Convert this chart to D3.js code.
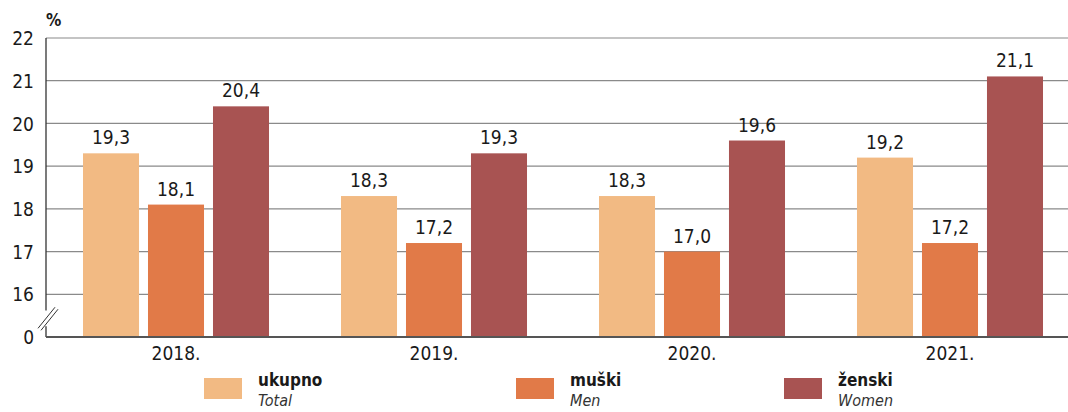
<!DOCTYPE html>
<html>
<head>
<meta charset="UTF-8">
<title>Stopa rizika siromaštva</title>
<script src="https://cdn.jsdelivr.net/npm/d3@7"></script>
<style>
body{margin:0;background:#fff}
text{font-family:"DejaVu Sans Condensed","DejaVu Sans",sans-serif;font-stretch:condensed;fill:#1a1a1a}
</style>
</head>
<body>
<script>
var years=["2018.","2019.","2020.","2021."]
var series=["ukupno","muški","ženski"]
var seriesEn=["Total","Men","Women"]
var ukupno=[19.3,18.3,18.3,19.2]
var muski=[18.1,17.2,17.0,17.2]
var zenski=[20.4,19.3,19.6,21.1]
var yTicks=[16,17,18,19,20,21,22]
var colors=["#f2ba83","#e17a48","#a85352"]

var values=[ukupno,muski,zenski]
var W=1068,H=412
var svg=d3.select("body").append("svg").attr("width",W).attr("height",H)

// 15 stands for the broken part, labelled 0
var y=d3.scaleLinear().domain([15,22]).range([337,38])
var x0=d3.scaleBand().domain(years).range([46,1080]).paddingInner(0.279).paddingOuter(0.1434)
var x1=d3.scaleBand().domain(series).range([0,x0.bandwidth()]).paddingInner(0.138)

// grid
svg.append("g").selectAll("line").data(yTicks).enter().append("line")
 .attr("x1",46).attr("x2",W).attr("y1",d=>y(d)).attr("y2",d=>y(d))
 .attr("stroke","#8a8a8a").attr("stroke-width",1.2)

var yAxis=svg.append("g").attr("transform","translate(46,0)")
 .call(d3.axisLeft(y).tickValues(yTicks.concat([15])).tickSize(0).tickPadding(12).tickFormat(d=>d==15?"0":d))
yAxis.select(".domain").remove()
yAxis.selectAll("text").style("font-size","19px").attr("dy","0.35em")

// left axis with break
svg.append("line").attr("x1",46).attr("x2",46).attr("y1",y(22)).attr("y2",y(15.62)).attr("stroke","#333").attr("stroke-width",1.3)
svg.append("line").attr("x1",46).attr("x2",46).attr("y1",y(15.25)).attr("y2",y(15)).attr("stroke","#333").attr("stroke-width",1.3)
svg.append("line").attr("x1",38).attr("x2",55).attr("y1",y(15.25)+2).attr("y2",y(15.65)-2).attr("stroke","#333")
svg.append("line").attr("x1",41).attr("x2",58).attr("y1",y(15.25)+4).attr("y2",y(15.65)).attr("stroke","#333")

svg.append("text").attr("x",46).attr("y",26).style("font-size","17px").style("font-weight","bold").text("%")

var groups=svg.append("g").selectAll("g").data(years).enter().append("g")
 .attr("transform",d=>"translate("+x0(d)+",0)")

groups.selectAll("rect").data((d,i)=>series.map((s,j)=>({s:s,j:j,v:values[j][i]}))).enter().append("rect")
 .attr("x",d=>x1(d.s)).attr("width",x1.bandwidth())
 .attr("y",d=>y(d.v)).attr("height",d=>y(15)-y(d.v))
 .attr("fill",d=>colors[d.j])

groups.selectAll("text.val").data((d,i)=>series.map((s,j)=>({s:s,j:j,v:values[j][i]}))).enter().append("text")
 .attr("class","val")
 .attr("x",d=>x1(d.s)+x1.bandwidth()/2).attr("y",d=>y(d.v)-9)
 .attr("text-anchor","middle").style("font-size","19px")
 .text(d=>d3.format(".1f")(d.v).replace(".",","))

// base axis
svg.append("line").attr("x1",46).attr("x2",W).attr("y1",y(15)).attr("y2",y(15)).attr("stroke","#555").attr("stroke-width",2)

var xAxis=svg.append("g").attr("transform","translate(0,"+y(15)+")")
 .call(d3.axisBottom(x0).tickSize(0).tickPadding(10))
xAxis.select(".domain").remove()
xAxis.selectAll("text").style("font-size","19px")

// legend
var legX=[204,516,784]
var leg=svg.append("g").selectAll("g").data(series).enter().append("g")
 .attr("transform",(d,i)=>"translate("+legX[i]+",378)")
leg.append("rect").attr("width",38).attr("height",21).attr("fill",(d,i)=>colors[i])
leg.append("text").attr("x",54).attr("y",8).style("font-size","17px").style("font-weight","bold").text(d=>d)
leg.append("text").attr("x",54).attr("y",28).style("font-size","16px").style("font-style","italic").style("fill","#333").text((d,i)=>seriesEn[i])
</script>
</body>
</html>
